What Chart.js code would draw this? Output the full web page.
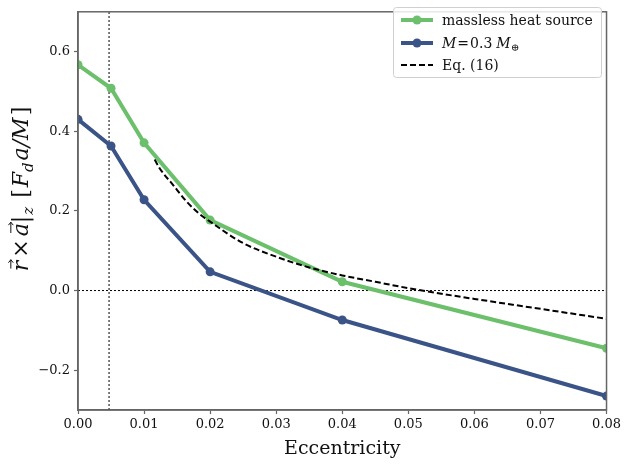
<!DOCTYPE html>
<html>
<head>
<meta charset="utf-8">
<script src="https://cdn.jsdelivr.net/npm/chart.js@4"></script>
<style>
html,body{margin:0;padding:0;background:#fff;}
#c{display:block;}
</style>
</head>
<body>
<canvas id="c" width="624" height="464"></canvas>
<script>
// ---- data ----
const xTicks = [0, 0.01, 0.02, 0.03, 0.04, 0.05, 0.06, 0.07, 0.08];
const yTicks = [-0.2, 0.0, 0.2, 0.4, 0.6];
const ecc = [0, 0.005, 0.01, 0.02, 0.04, 0.08];
const massless = [0.567, 0.508, 0.371, 0.177, 0.022, -0.145];
const massive = [0.430, 0.363, 0.228, 0.047, -0.074, -0.265];
const eqEcc = [0.0116, 0.0124, 0.0144, 0.0164, 0.0185, 0.02, 0.025, 0.03, 0.035, 0.04, 0.045, 0.05, 0.055, 0.06, 0.07, 0.08];
const eqVal = [0.329, 0.306, 0.265, 0.224, 0.191, 0.173, 0.119, 0.085, 0.058, 0.038, 0.022, 0.006, -0.008, -0.021, -0.046, -0.071];
const eMark = 0.0047;
const xRange = [0, 0.08];
const yRange = [-0.3, 0.7];
const legendLabels = ['massless heat source', 'M = 0.3 M⊕', 'Eq. (16)'];

const GREEN = '#6cbf6b';
const BLUE = '#3b5488';
const SERIF = '"DejaVu Serif", serif';

const pts = (xs, ys) => xs.map((x, i) => ({x, y: ys[i]}));

const frame = {
  id: 'frame',
  afterDatasetsDraw(chart) {
    const a = chart.chartArea, ctx = chart.ctx;
    ctx.save();
    ctx.strokeStyle = '#666';
    ctx.lineWidth = 1.5;
    ctx.strokeRect(a.left, a.top, a.right - a.left, a.bottom - a.top);
    ctx.restore();
  }
};

function drawPieces(ctx, pieces, x0, y0) {
  let x = x0;
  for (const p of pieces) {
    x += (p.pre || 0);
    ctx.font = p.font;
    const w = ctx.measureText(p.t).width;
    ctx.fillText(p.t, x, y0 + (p.dy || 0));
    if (p.vec) {
      const ay = y0 - p.size * 0.78;
      const ax0 = x + w * 0.25, ax1 = x + w + 1;
      ctx.beginPath();
      ctx.moveTo(ax0, ay); ctx.lineTo(ax1, ay);
      ctx.moveTo(ax1 - 3, ay - 2.4); ctx.lineTo(ax1, ay); ctx.lineTo(ax1 - 3, ay + 2.4);
      ctx.lineWidth = 1;
      ctx.strokeStyle = ctx.fillStyle;
      ctx.stroke();
    }
    x += w + (p.sp || 0);
  }
  return x - x0;
}
function measurePieces(ctx, pieces) {
  let tot = 0;
  for (const p of pieces) { ctx.font = p.font; tot += (p.pre || 0) + ctx.measureText(p.t).width + (p.sp || 0); }
  return tot;
}

const yTitle = {
  id: 'yTitle',
  afterDraw(chart) {
    const ctx = chart.ctx;
    const fs = 22, sub = 15;
    const it = `italic ${fs}px ${SERIF}`, rm = `${fs}px ${SERIF}`, its = `italic ${sub}px ${SERIF}`;
    const pieces = [
      {t: 'r', font: it, vec: true, size: fs, sp: 3},
      {t: '×', font: rm, sp: 3},
      {t: 'a', font: it, vec: true, size: fs},
      {t: '|', font: rm, sp: 1},
      {t: 'z', font: its, dy: 5, sp: 9},
      {t: '[', font: rm, sp: 2},
      {t: 'F', font: it},
      {t: 'd', font: its, dy: 5, sp: 2},
      {t: 'a/M', font: it, sp: 2},
      {t: ']', font: rm}
    ];
    ctx.save();
    ctx.fillStyle = '#111';
    ctx.textBaseline = 'alphabetic';
    const tot = measurePieces(ctx, pieces);
    ctx.translate(28, 189);
    ctx.rotate(-Math.PI / 2);
    drawPieces(ctx, pieces, -tot / 2, 0);
    ctx.restore();
  }
};

const legendBox = {
  id: 'legendBox',
  afterDraw(chart) {
    const ctx = chart.ctx;
    const bx = 393, by = 7, bw = 208, bh = 70;
    ctx.save();
    ctx.beginPath();
    ctx.roundRect(bx + 0.5, by + 0.5, bw, bh, 3);
    ctx.fillStyle = 'rgba(255,255,255,0.85)';
    ctx.fill();
    ctx.strokeStyle = '#d0d0d0';
    ctx.lineWidth = 1;
    ctx.stroke();
    const rows = [20, 43, 65];
    const x0 = 401, x1 = 433, tx = 442;
    ctx.lineWidth = 4; ctx.strokeStyle = GREEN; ctx.fillStyle = GREEN;
    ctx.beginPath(); ctx.moveTo(x0, rows[0]); ctx.lineTo(x1, rows[0]); ctx.stroke();
    ctx.beginPath(); ctx.arc((x0 + x1) / 2, rows[0], 4.5, 0, Math.PI * 2); ctx.fill();
    ctx.strokeStyle = BLUE; ctx.fillStyle = BLUE;
    ctx.beginPath(); ctx.moveTo(x0, rows[1]); ctx.lineTo(x1, rows[1]); ctx.stroke();
    ctx.beginPath(); ctx.arc((x0 + x1) / 2, rows[1], 4.5, 0, Math.PI * 2); ctx.fill();
    ctx.strokeStyle = '#000'; ctx.lineWidth = 2; ctx.setLineDash([6, 3]);
    ctx.beginPath(); ctx.moveTo(x0, rows[2]); ctx.lineTo(x1, rows[2]); ctx.stroke();
    ctx.setLineDash([]);
    ctx.fillStyle = '#111';
    ctx.textBaseline = 'middle';
    ctx.font = `14px ${SERIF}`;
    ctx.fillText(legendLabels[0], tx, rows[0] + 1);
    const it = `italic 14px ${SERIF}`, rm = `14px ${SERIF}`, sm = `10px ${SERIF}`;
    drawPieces(ctx, [
      {t: 'M', font: it, sp: 1},
      {t: '=', font: rm, sp: 1},
      {t: '0.3', font: rm, sp: 4},
      {t: 'M', font: it},
      {t: '⊕', font: sm, dy: 4}
    ], tx, rows[1] + 1);
    ctx.font = rm;
    ctx.fillText(legendLabels[2], tx, rows[2] + 1);
    ctx.restore();
  }
};

new Chart(document.getElementById('c'), {
  type: 'line',
  data: {
    datasets: [
      {label: 'vline', data: [{x: eMark, y: yRange[0]}, {x: eMark, y: yRange[1]}], borderColor: '#000', borderWidth: 1, borderDash: [2, 2], pointRadius: 0, order: 10, clip: 0},
      {label: 'hline', data: [{x: xRange[0], y: 0}, {x: xRange[1], y: 0}], borderColor: '#000', borderWidth: 1, borderDash: [2, 2], pointRadius: 0, order: 9, clip: 0},
      {label: legendLabels[0], data: pts(ecc, massless), borderColor: GREEN, backgroundColor: GREEN, borderWidth: 4, pointRadius: 4.5, pointBorderWidth: 0, order: 3, clip: 0},
      {label: legendLabels[1], data: pts(ecc, massive), borderColor: BLUE, backgroundColor: BLUE, borderWidth: 4, pointRadius: 4.5, pointBorderWidth: 0, order: 2, clip: 0},
      {label: legendLabels[2], data: pts(eqEcc, eqVal), borderColor: '#000', borderWidth: 2, borderDash: [6, 3], pointRadius: 0, cubicInterpolationMode: 'monotone', order: 1, clip: 0}
    ]
  },
  options: {
    responsive: false,
    animation: false,
    devicePixelRatio: 1,
    layout: {padding: {top: 3, right: 17, left: 0, bottom: 0}},
    plugins: {legend: {display: false}, tooltip: {enabled: false}},
    elements: {line: {tension: 0, fill: false}, point: {hoverRadius: 0}},
    scales: {
      x: {
        type: 'linear', min: xRange[0], max: xRange[1],
        afterBuildTicks: s => { s.ticks = xTicks.map(v => ({value: v})); },
        afterFit: s => { s.height = 54; },
        ticks: {callback: v => v.toFixed(2), font: {family: SERIF, size: 13}, color: '#111', padding: 3, maxRotation: 0},
        grid: {drawOnChartArea: false, drawTicks: true, tickLength: 4, color: '#666', tickWidth: 1.2},
        border: {display: true, color: '#666', width: 1.5},
        title: {display: true, text: 'Eccentricity', font: {family: SERIF, size: 19}, color: '#111', padding: {top: 0, bottom: 4}}
      },
      y: {
        type: 'linear', min: yRange[0], max: yRange[1],
        afterBuildTicks: s => { s.ticks = yTicks.map(v => ({value: v})); },
        afterFit: s => { s.width = 78; },
        ticks: {callback: v => (v < 0 ? '−' + Math.abs(v).toFixed(1) : v.toFixed(1)), font: {family: SERIF, size: 13}, color: '#111', padding: 4},
        grid: {drawOnChartArea: false, drawTicks: true, tickLength: 4, color: '#666', tickWidth: 1.2},
        border: {display: true, color: '#666', width: 1.5}
      }
    }
  },
  plugins: [frame, yTitle, legendBox]
});
</script>
</body>
</html>
